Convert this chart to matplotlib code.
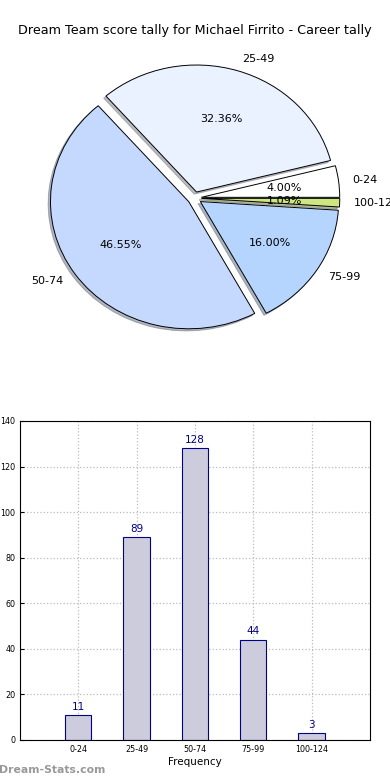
import matplotlib
matplotlib.use("Agg")
import matplotlib.pyplot as plt

TITLE = "Dream Team score tally for Michael Firrito - Career tally"
RANGES = ["0-24", "25-49", "50-74", "75-99", "100-124"]
COUNTS = [11, 89, 128, 44, 3]
PIE_COLORS = ["#ffffff", "#eaf1ff", "#c5d9ff", "#b5d5ff", "#cde680"]

fig = plt.figure(figsize=(3.9, 7.8), dpi=100, facecolor="white")

# pie (old-style, not forced to a circle)
axp = fig.add_axes([0.0897, 0.560, 0.818, 0.372])
wedges, texts, autotexts = axp.pie(
    COUNTS, labels=RANGES, colors=PIE_COLORS, explode=[0.05] * len(COUNTS),
    autopct="%1.2f%%", shadow={"ox": -0.012, "oy": -0.012, "shade": 0.5},
    startangle=0,
    wedgeprops={"edgecolor": "black", "linewidth": 0.7},
    textprops={"fontsize": 8})
axp.set_aspect("auto")
axp.set_xlim(-1.153, 1.153)
axp.set_ylim(-1.142, 1.142)
for t in texts:
    t.set_clip_on(False)
fig.text(0.5, 0.961, TITLE, ha="center", va="center", fontsize=9.2)

# bar chart
axb = fig.add_axes([0.0513, 0.0513, 0.897, 0.409])
x = range(len(RANGES))
bars = axb.bar(x, COUNTS, width=0.45, color="#ccccdd", edgecolor="#000088",
               linewidth=0.8, zorder=2)
for b, c in zip(bars, COUNTS):
    axb.text(b.get_x() + b.get_width() / 2, c + 1.5, str(c), ha="center",
             va="bottom", fontsize=7.5, color="#000088")
axb.set_xlim(-1, 5)
axb.set_ylim(0, 140)
axb.set_yticks(range(0, 141, 20))
axb.set_xticks(list(x))
axb.set_xticklabels(RANGES)
axb.tick_params(labelsize=5.8, direction="in", length=3)
axb.grid(True, linestyle=":", color="#bbbbbb", linewidth=0.9, zorder=0)
axb.set_axisbelow(True)
axb.set_xlabel("Frequency", fontsize=7.5, labelpad=2)

fig.text(-0.003, 0.013, "Dream-Stats.com", ha="left", va="center",
         fontsize=7.8, color="#999999", fontweight="bold")

fig.savefig("out.png", dpi=100, facecolor="white")
